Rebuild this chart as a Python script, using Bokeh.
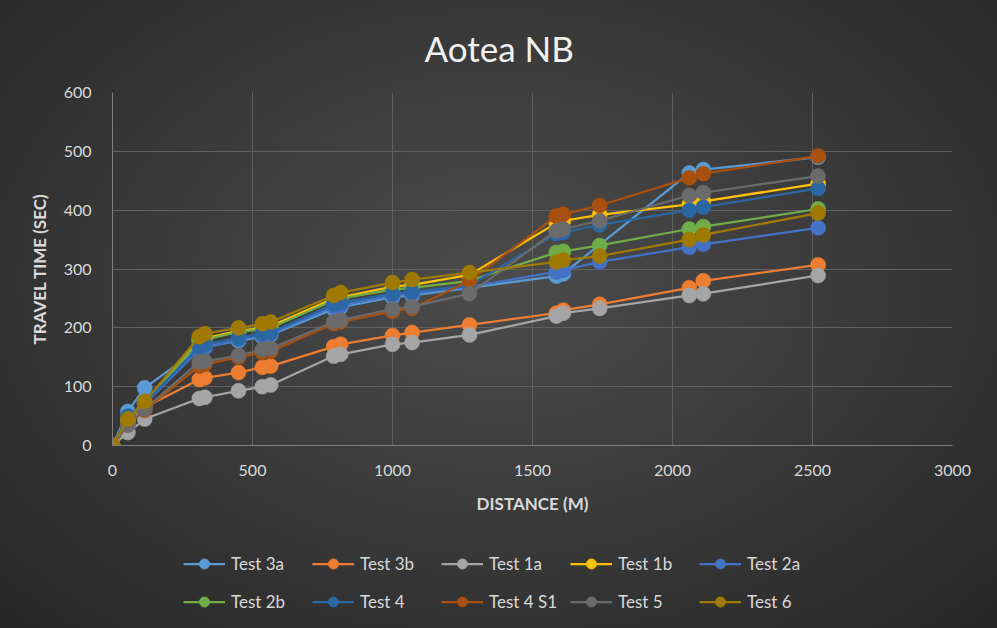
from bokeh.plotting import figure
from bokeh.models import Legend, LegendItem, Range1d, FixedTicker
from bokeh.layouts import column
from bokeh.embed import file_html
from bokeh.resources import INLINE

# ---- data ----
distance = [0, 55, 115, 310, 330, 450, 535, 565, 790, 815, 1000, 1070, 1275, 1585, 1610, 1740, 2060, 2110, 2520]

test_3a = [0, 58, 98, 165, 168, 178, 185, 188, 232, 235, 252, 255, 268, 288, 292, None, 463, 469, 490]
test_3b = [0, 38, 65, 112, 115, 124, 133, 135, 168, 172, 187, 192, 205, 225, 230, 240, 268, 280, 307]
test_1a = [0, 22, 45, 80, 82, 93, 100, 103, 152, 155, 172, 175, 188, 220, 225, 233, 255, 258, 289]
test_1b = [0, 45, 70, 180, 182, 195, 200, 203, 250, 252, 270, 273, 290, 378, 382, 392, 410, 415, 445]
test_2a = [0, 45, 70, 163, 166, 180, 187, 190, 236, 238, 255, 258, 270, 295, 298, 312, 337, 342, 370]
test_2b = [0, 45, 72, 177, 180, 193, 198, 200, 247, 250, 265, 268, 280, 328, 330, 340, 368, 372, 402]
test_4 = [0, 50, 72, 168, 172, 183, 190, 192, 240, 243, 258, 261, 272, 360, 362, 375, 400, 405, 437]
test_4_s1 = [0, 35, 60, 135, 138, 150, 158, 160, 207, 210, 228, 233, 280, 390, 393, 408, 455, 462, 492]
test_5 = [0, 35, 62, 142, 143, 153, 163, 165, 210, 213, 232, 236, 258, 365, 368, 382, 425, 430, 458]
test_6 = [0, 45, 75, 185, 190, 200, 207, 210, 255, 260, 277, 282, 294, 312, 315, 322, 350, 358, 395]

series_names = ["Test 3a", "Test 3b", "Test 1a", "Test 1b", "Test 2a",
                "Test 2b", "Test 4", "Test 4 S1", "Test 5", "Test 6"]
series_values = [test_3a, test_3b, test_1a, test_1b, test_2a,
                 test_2b, test_4, test_4_s1, test_5, test_6]
colors = ["#5B9BD5", "#ED7D31", "#A5A5A5", "#FFC000", "#4472C4",
          "#70AD47", "#2A67A3", "#A9500F", "#6B6B6B", "#A07A00"]

x_ticks = [0, 500, 1000, 1500, 2000, 2500, 3000]
y_ticks = [0, 100, 200, 300, 400, 500, 600]

FONT = "Lato"
TXT = "#D9D9D9"

p = figure(frame_width=840, frame_height=353, output_backend="svg", toolbar_location=None,
           x_range=Range1d(0, 3000), y_range=Range1d(0, 600),
           min_border_left=112, min_border_right=45, min_border_top=92, min_border_bottom=85)

p.background_fill_alpha = 0
p.border_fill_alpha = 0
p.outline_line_color = None

p.title.text = "Aotea NB"
p.title.align = "left"
p.title.offset = 312
p.title.text_font = FONT
p.title.text_font_size = "35px"
p.title.text_font_style = "normal"
p.title.text_color = "#F2F2F2"
p.title.standoff = 48

for ax in (p.xaxis[0], p.yaxis[0]):
    ax.major_tick_line_color = None
    ax.minor_tick_line_color = None
    ax.major_tick_out = 0
    ax.major_tick_in = 0
    ax.axis_line_color = "#7F7F7F"
    ax.axis_line_width = 1
    ax.major_label_text_color = TXT
    ax.major_label_text_font = FONT
    ax.major_label_text_font_size = "16px"
    ax.axis_label_text_color = TXT
    ax.axis_label_text_font = FONT
    ax.axis_label_text_font_size = "17px"
    ax.axis_label_text_font_style = "bold"

p.xaxis.ticker = FixedTicker(ticks=x_ticks)
p.yaxis.ticker = FixedTicker(ticks=y_ticks)
p.xaxis.axis_label = "DISTANCE (M)"
p.yaxis.axis_label = "TRAVEL TIME (SEC)"
p.xaxis.major_label_standoff = 19
p.yaxis.major_label_standoff = 21
p.xaxis.axis_label_standoff = 14
p.yaxis.axis_label_standoff = 11

p.xgrid.ticker = FixedTicker(ticks=x_ticks)
p.ygrid.ticker = FixedTicker(ticks=y_ticks)
p.grid.grid_line_color = "#606060"
p.grid.grid_line_width = 1

# ---- legend strip below the chart (its own plot; ranges keep its copies of the series out of view) ----
pl = figure(width=997, height=98, output_backend="svg", toolbar_location=None,
            x_range=Range1d(-20, -10), y_range=Range1d(-20, -10),
            min_border=0, x_axis_location=None, y_axis_location=None)
pl.background_fill_alpha = 0
pl.border_fill_alpha = 0
pl.outline_line_color = None
pl.grid.visible = False

items = {}
for name, vals, col in zip(series_names, series_values, colors):
    xs = [d for d, v in zip(distance, vals) if v is not None]
    ys = [v for v in vals if v is not None]
    p.line(xs, ys, line_color=col, line_width=2.25)
    p.scatter(xs, ys, size=15, fill_color=col, line_color=col, line_alpha=0.6)
    ln = pl.line(xs, ys, line_color=col, line_width=2.25)
    sc = pl.scatter(xs, ys, size=15, fill_color=col, line_color=col)
    items[name] = LegendItem(label=name, renderers=[ln, sc])

# legend fills column by column: order so rows read like the reference
legend_order = ["Test 3a", "Test 2b", "Test 3b", "Test 4", "Test 1a",
                "Test 4 S1", "Test 1b", "Test 5", "Test 2a", "Test 6"]
legend = Legend(items=[items[n] for n in legend_order], ncols=5, location=(71, 14.5),
                glyph_width=42, glyph_height=25, label_height=25, label_width=68,
                label_standoff=6, spacing=13, padding=0, margin=0,
                label_text_font=FONT, label_text_font_size="17px", label_text_color=TXT,
                background_fill_alpha=0, border_line_color=None)
pl.add_layout(legend, "center")

layout = column(p, pl, spacing=0)
layout.styles = {"background-image": "radial-gradient(ellipse at 50% 45%, #4b4b4b 0%, #3c3c3c 45%, #262626 100%)"}

open("out.html", "w").write(file_html(layout, INLINE))
